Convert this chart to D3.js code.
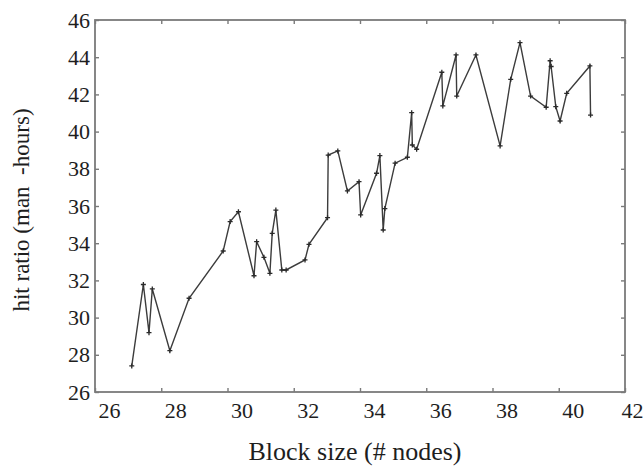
<!DOCTYPE html>
<html>
<head>
<meta charset="utf-8">
<script src="https://cdn.jsdelivr.net/npm/d3@7"></script>
<style>
  body { margin: 0; background: #fff; }
  svg { display: block; }
</style>
</head>
<body>
<svg id="chart" width="643" height="467"></svg>
<script>
const blockSize = [27.11, 27.46, 27.63, 27.73, 28.26, 28.84, 29.87, 30.08, 30.33, 30.80,
  30.88, 31.10, 31.28, 31.35, 31.46, 31.64, 31.77, 32.34, 32.46, 33.02,
  33.04, 33.33, 33.62, 33.97, 34.02, 34.50, 34.60, 34.70, 34.75, 35.06,
  35.43, 35.56, 35.58, 35.71, 36.47, 36.50, 36.90, 36.92, 37.50, 38.23,
  38.55, 38.83, 39.15, 39.62, 39.74, 39.77, 39.91, 40.04, 40.24, 40.94, 40.96];
const hitRatio = [27.40, 31.78, 29.19, 31.54, 28.22, 31.04, 33.58, 35.16, 35.69, 32.25,
  34.08, 33.24, 32.38, 34.53, 35.78, 32.56, 32.56, 33.10, 33.94, 35.37,
  38.74, 38.96, 36.81, 37.31, 35.52, 37.76, 38.71, 34.71, 35.86, 38.30,
  38.62, 41.02, 39.28, 39.05, 43.19, 41.38, 44.12, 41.91, 44.12, 39.23,
  42.81, 44.78, 41.91, 41.31, 43.81, 43.50, 41.34, 40.57, 42.06, 43.53, 40.89];
const xTicks = [26, 28, 30, 32, 34, 36, 38, 40, 42];
const yTicks = [26, 28, 30, 32, 34, 36, 38, 40, 42, 44, 46];
const xTitle = "Block size (# nodes)";
const yTitle = "hit ratio (man  -hours)";

(function () {
const pL = 95, pR = 625, pT = 20, pB = 392;
const svg = d3.select("#chart");
const x = d3.scaleLinear().domain([26, 42]).range([pL, pR]);
const y = d3.scaleLinear().domain([26, 46]).range([pB, pT]);
const font = "'Liberation Serif', 'Times New Roman', serif";
const frameColor = "#7a7a7a";
const textColor = "#1e1e1e";

// ticks inside the frame on all four sides
const gB = svg.append("g").attr("transform", `translate(0,${pB})`)
  .call(d3.axisBottom(x).tickValues(xTicks).tickSizeInner(-4).tickSizeOuter(0).tickFormat(d3.format("d")));
const gT = svg.append("g").attr("transform", `translate(0,${pT})`)
  .call(d3.axisTop(x).tickValues(xTicks).tickSizeInner(-4).tickSizeOuter(0).tickFormat(""));
const gL = svg.append("g").attr("transform", `translate(${pL},0)`)
  .call(d3.axisLeft(y).tickValues(yTicks).tickSizeInner(-4).tickSizeOuter(0).tickFormat(d3.format("d")));
const gR = svg.append("g").attr("transform", `translate(${pR},0)`)
  .call(d3.axisRight(y).tickValues(yTicks).tickSizeInner(-4).tickSizeOuter(0).tickFormat(""));

[gB, gT, gL, gR].forEach(g => {
  g.select(".domain").remove();
  g.selectAll(".tick line").attr("stroke", frameColor).attr("stroke-width", 1.4);
});
gB.selectAll(".tick text")
  .attr("y", 26).attr("dy", 0)
  .attr("dx", d => d === 42 ? 7 : 14)
  .attr("font-family", font).attr("font-size", 22).attr("fill", textColor);
gL.selectAll(".tick text")
  .attr("x", -5)
  .attr("font-family", font).attr("font-size", 22).attr("fill", textColor);

// frame
svg.append("rect")
  .attr("x", pL).attr("y", pT)
  .attr("width", pR - pL).attr("height", pB - pT)
  .attr("fill", "none").attr("stroke", frameColor).attr("stroke-width", 1.8);

// line
const pts = blockSize.map((b, i) => [b, hitRatio[i]]);
svg.append("path")
  .datum(pts)
  .attr("fill", "none")
  .attr("stroke", "#3c3c3c")
  .attr("stroke-width", 1.4)
  .attr("d", d3.line().x(d => x(d[0])).y(d => y(d[1])));

// plus markers
svg.append("g").selectAll("path")
  .data(pts)
  .join("path")
  .attr("transform", d => `translate(${x(d[0])},${y(d[1])})`)
  .attr("d", "M-2.5,0H2.5M0,-2.5V2.5")
  .attr("stroke", "#2a2a2a")
  .attr("stroke-width", 1.3)
  .attr("fill", "none");

// titles
svg.append("text")
  .attr("x", 355).attr("y", 460)
  .attr("text-anchor", "middle")
  .attr("font-family", font).attr("font-size", 26).attr("fill", textColor)
  .text(xTitle);
svg.append("text")
  .attr("transform", "translate(29,210) rotate(-90)")
  .attr("text-anchor", "middle")
  .attr("xml:space", "preserve")
  .style("white-space", "pre")
  .attr("font-family", font).attr("font-size", 23).attr("fill", textColor)
  .text(yTitle);
})();
</script>
</body>
</html>
